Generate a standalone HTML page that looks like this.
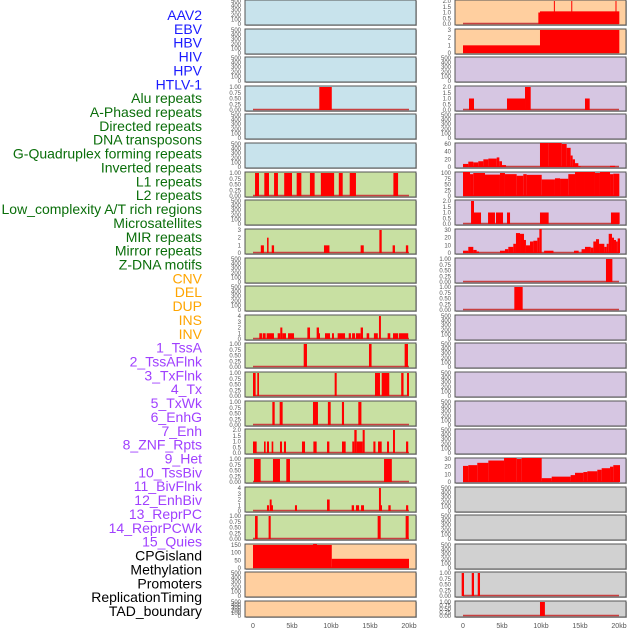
<!DOCTYPE html>
<html><head><meta charset="utf-8"><style>
html,body{margin:0;padding:0;background:#fff;width:630px;height:630px;overflow:hidden}
svg{display:block;font-family:"Liberation Sans",sans-serif}
</style></head><body>
<svg id="chart" width="630" height="630" viewBox="0 0 630 630"></svg>
<script>
// ---- labels ----
const labels = ["AAV2","EBV","HBV","HIV","HPV","HTLV-1","Alu repeats","A-Phased repeats","Directed repeats","DNA transposons","G-Quadruplex forming repeats","Inverted repeats","L1 repeats","L2 repeats","Low_complexity A/T rich regions","Microsatellites","MIR repeats","Mirror repeats","Z-DNA motifs","CNV","DEL","DUP","INS","INV","1_TssA","2_TssAFlnk","3_TxFlnk","4_Tx","5_TxWk","6_EnhG","7_Enh","8_ZNF_Rpts","9_Het","10_TssBiv","11_BivFlnk","12_EnhBiv","13_ReprPC","14_ReprPCWk","15_Quies","CPGisland","Methylation","Promoters","ReplicationTiming","TAD_boundary"];
const labelGroups = [6,13,5,15,5];
const groupColors = ["#1a1aff","#0a6e0a","#ffa500","#a040ff","#000000"];
// ---- tick label sets ----
const ticksEmpty = ["0","100","200","300","400","500"];
const ticks1 = ["0.00","0.25","0.50","0.75","1.00"];
const ticks2 = ["0.0","0.5","1.0","1.5","2.0"];
const ticks3 = ["0","1","2","3"];
const ticks4 = ["0","1","2","3","4"];
const ticks30 = ["0","10","20","30"];
const ticks60 = ["0","20","40","60"];
const ticks100 = ["0","25","50","75","100"];
const ticks150 = ["0","50","100","150"];
const xTicks = [0,5,10,15,20];
const xTickLabels = ["0","5kb","10kb","15kb","20kb"];
// ---- series: [startKb, endKb, value] ----
const sHIV = [[8.5,10.1,1]];
const sAlu = [[0.26,0.77,1],[1.45,2.05,1],[2.7,3.2,1],[4.0,5.0,1],[5.6,6.2,1],[7.3,7.9,1],[8.7,10.4,1],[11.0,11.5,1],[12.4,13.2,1],[18.0,18.6,1]];
const sDirected = [[1.0,1.4,1],[1.8,2.0,2],[2.4,2.7,1],[9.1,9.8,1],[13.8,14.2,1],[16.2,16.5,3],[17.9,18.2,1],[19.6,19.9,1]];
const sInverted = [[0.81,1.15,1],[1.24,1.62,1],[1.75,2.69,1],[3.16,3.5,1],[3.5,3.76,2],[3.76,4.23,1],[4.49,5.26,1],[6.97,7.31,2],[8.16,8.46,2],[8.46,8.59,1],[9.23,9.87,1],[10.13,10.38,1],[10.85,11.8,1],[12.27,12.56,1],[12.7,13.08,1],[13.2,13.8,1],[13.8,14.1,2],[14.57,14.9,1],[15.5,16.0,1],[16.15,16.4,4],[17.26,17.6,1],[17.95,18.6,1],[18.7,19.9,1]];
const sL1 = [[6.5,6.92,1],[14.87,15.2,1],[19.44,19.87,1]];
const sL2 = [[0.0,0.34,1],[0.55,0.77,1],[10.47,10.73,1],[15.64,16.28,1],[16.5,17.47,1],[19.0,19.3,1],[19.74,20.0,1]];
const sLowComp = [[2.48,2.78,1],[3.42,3.8,1],[7.69,8.33,1],[9.6,9.96,1],[11.4,11.67,1],[13.5,13.9,1]];
const sMicro = [[0.0,0.26,1],[0.21,0.47,1],[1.41,1.62,1],[1.79,2.05,1],[2.39,2.6,1],[3.46,3.72,1],[3.97,4.23,1],[6.28,6.67,1],[7.74,8.16,1],[9.49,9.79,1],[11.41,11.88,1],[12.73,12.99,1],[12.99,13.29,2],[13.29,14.06,1],[14.06,14.32,2],[15.43,15.7,1],[16.03,16.5,1],[17.18,17.44,1],[17.95,18.2,2],[19.62,19.9,1]];
const sMIR = [[0.13,0.98,1],[2.56,3.46,1],[4.27,4.74,1],[16.8,17.8,1]];
const sMirror = [[1.79,2.05,1],[2.14,2.39,2],[2.3,2.56,1],[5.38,5.64,1],[9.49,9.83,2],[12.65,12.95,1],[13.2,13.6,1],[13.85,14.23,1],[16.15,16.4,4],[16.28,16.54,1],[17.35,17.65,1],[19.62,19.9,1]];
const sZDNA = [[0.26,0.6,1],[2.0,2.27,1],[15.98,16.37,1],[19.57,19.96,1]];
const sCNV = [[0,10.1,150],[7.7,8.2,156],[10.1,20.0,60]];
const sINS = [[9.66,9.87,1],[9.87,20.04,1.1],[11.65,11.75,2],[13.88,13.98,2],[19.55,19.65,2]];
const sINV = [[0,9.87,1],[9.87,20.04,3]];
const sTssAFlnk = [[0.77,1.41,1],[5.64,7.95,1],[7.95,8.68,2],[15.64,16.24,1]];
const sTx = [[0,0.68,8],[0.68,1.32,14],[1.32,1.96,12],[1.96,2.61,15],[2.61,3.25,20],[3.25,4.32,22],[4.32,4.66,25],[4.66,5.0,15],[5.0,5.51,5],[9.87,10.94,68],[10.94,12.65,63],[12.65,13.29,60],[13.29,13.8,50],[13.8,14.06,30],[14.06,14.36,20],[14.36,14.79,10],[14.79,15.08,2],[18.85,19.5,3]];
const sTxWk = [[0,0.9,105],[0.9,1.32,95],[1.32,2.82,100],[2.82,4.74,93],[4.74,5.38,100],[5.38,6.88,95],[6.88,7.73,88],[7.73,8.16,95],[8.16,10.09,92],[10.09,11.79,72],[11.79,12.44,77],[12.44,13.5,75],[13.5,14.36,95],[14.36,15.64,117],[15.64,16.92,108],[16.92,17.56,100],[17.56,18.85,105],[18.85,19.27,95],[19.27,20.04,97]];
const sEnhG = [[1.03,1.41,2],[1.41,2.31,1],[3.21,4.1,1],[4.23,5.13,1],[5.64,6.03,1],[9.87,10.98,1],[18.97,20.08,1]];
const sEnh = [[0,0.68,3],[0.68,1.32,8],[1.32,1.75,4],[1.75,2.05,2],[4.74,5.38,3],[5.38,5.81,5],[5.81,6.45,8],[6.45,6.79,12],[6.79,7.31,26],[7.31,7.82,25],[7.82,8.07,17],[8.07,8.59,10],[8.59,9.02,15],[9.02,9.53,16],[9.53,9.79,20],[9.79,10.09,33],[10.4,11.6,3],[14.23,14.83,3],[15.2,15.64,5],[15.64,16.37,8],[16.37,16.71,7],[16.71,17.05,15],[17.05,17.44,18],[17.44,18.12,12],[18.12,18.42,8],[18.42,18.68,12],[18.68,19.1,25],[19.1,19.36,20],[19.36,19.62,17],[19.62,19.83,15],[19.83,20.13,19]];
const sZNF = [[18.33,19.15,1]];
const sHet = [[6.58,7.65,1]];
const sQuies = [[0,0.68,21],[0.68,1.83,22],[1.83,3.25,25],[3.25,5.26,28],[5.26,6.88,32],[6.88,7.52,30],[7.52,10.09,33],[10.09,11.37,5],[11.37,13.8,7],[13.8,14.36,9],[14.36,15.43,12],[15.43,15.94,13],[15.94,17.22,14],[17.22,17.78,16],[17.78,18.85,18],[18.85,19.27,20],[19.27,20.13,22]];
const sRepl = [[-0.17,0.13,1],[1.12,1.41,1],[1.89,2.18,1]];
const sTAD = [[9.87,10.5,1]];

const BLUE="#c8e3ec", GREEN="#c8e0a2", PEACH="#ffcf9f", LAV="#d6c6e2", GRAY="#d1d1d1";
const panels = [
 // left column
 {c:0,r:0,n:"AAV2",bg:BLUE,t:ticksEmpty,s:null},
 {c:0,r:1,n:"EBV",bg:BLUE,t:ticksEmpty,s:null},
 {c:0,r:2,n:"HBV",bg:BLUE,t:ticksEmpty,s:null},
 {c:0,r:3,n:"HIV",bg:BLUE,t:ticks1,s:sHIV},
 {c:0,r:4,n:"HPV",bg:BLUE,t:ticksEmpty,s:null},
 {c:0,r:5,n:"HTLV-1",bg:BLUE,t:ticksEmpty,s:null},
 {c:0,r:6,n:"alu",bg:GREEN,t:ticks1,s:sAlu},
 {c:0,r:7,n:"a-phased",bg:GREEN,t:ticksEmpty,s:null},
 {c:0,r:8,n:"directed",bg:GREEN,t:ticks3,s:sDirected},
 {c:0,r:9,n:"dna-transposons",bg:GREEN,t:ticksEmpty,s:null},
 {c:0,r:10,n:"g-quadruplex",bg:GREEN,t:ticksEmpty,s:null},
 {c:0,r:11,n:"inverted",bg:GREEN,t:ticks4,s:sInverted},
 {c:0,r:12,n:"l1",bg:GREEN,t:ticks1,s:sL1},
 {c:0,r:13,n:"l2",bg:GREEN,t:ticks1,s:sL2},
 {c:0,r:14,n:"low-complexity",bg:GREEN,t:ticks1,s:sLowComp},
 {c:0,r:15,n:"microsatellites",bg:GREEN,t:ticks2,s:sMicro},
 {c:0,r:16,n:"mir",bg:GREEN,t:ticks1,s:sMIR},
 {c:0,r:17,n:"mirror",bg:GREEN,t:ticks4,s:sMirror},
 {c:0,r:18,n:"z-dna",bg:GREEN,t:ticks1,s:sZDNA},
 {c:0,r:19,n:"cnv",bg:PEACH,t:ticks150,s:sCNV},
 {c:0,r:20,n:"del",bg:PEACH,t:ticksEmpty,s:null},
 {c:0,r:21,n:"dup",bg:PEACH,t:ticksEmpty,s:null},
 // right column
 {c:1,r:0,n:"ins",bg:PEACH,t:ticks2,s:sINS},
 {c:1,r:1,n:"inv",bg:PEACH,t:ticks3,s:sINV},
 {c:1,r:2,n:"tssa",bg:LAV,t:ticksEmpty,s:null},
 {c:1,r:3,n:"tssaflnk",bg:LAV,t:ticks2,s:sTssAFlnk},
 {c:1,r:4,n:"txflnk",bg:LAV,t:ticksEmpty,s:null},
 {c:1,r:5,n:"tx",bg:LAV,t:ticks60,s:sTx},
 {c:1,r:6,n:"txwk",bg:LAV,t:ticks100,s:sTxWk},
 {c:1,r:7,n:"enhg",bg:LAV,t:ticks2,s:sEnhG},
 {c:1,r:8,n:"enh",bg:LAV,t:ticks30,s:sEnh},
 {c:1,r:9,n:"znf",bg:LAV,t:ticks1,s:sZNF},
 {c:1,r:10,n:"het",bg:LAV,t:ticks1,s:sHet},
 {c:1,r:11,n:"tssbiv",bg:LAV,t:ticksEmpty,s:null},
 {c:1,r:12,n:"bivflnk",bg:LAV,t:ticksEmpty,s:null},
 {c:1,r:13,n:"enhbiv",bg:LAV,t:ticksEmpty,s:null},
 {c:1,r:14,n:"reprpc",bg:LAV,t:ticksEmpty,s:null},
 {c:1,r:15,n:"reprpcwk",bg:LAV,t:ticksEmpty,s:null},
 {c:1,r:16,n:"quies",bg:LAV,t:ticks30,s:sQuies},
 {c:1,r:17,n:"cpgisland",bg:GRAY,t:ticksEmpty,s:null},
 {c:1,r:18,n:"methylation",bg:GRAY,t:ticksEmpty,s:null},
 {c:1,r:19,n:"promoters",bg:GRAY,t:ticksEmpty,s:null},
 {c:1,r:20,n:"replication-timing",bg:GRAY,t:ticks1,s:sRepl},
 {c:1,r:21,n:"tad-boundary",bg:GRAY,t:ticks1,s:sTAD}
];

const NS="http://www.w3.org/2000/svg";
const svg=document.getElementById('chart');
function mk(tag,attrs,parent){const e=document.createElementNS(NS,tag);for(const k in attrs)e.setAttribute(k,attrs[k]);(parent||svg).appendChild(e);return e;}

// labels
let li=0;
labelGroups.forEach((cnt,g)=>{for(let k=0;k<cnt;k++){
  const t=mk('text',{x:202,y:15+li*13.86+5,'text-anchor':'end','font-size':'14',fill:groupColors[g]});
  t.textContent=labels[li];
  
  
  li++;}});

const colX=[245,455], colW=171;
function rowTop(r){return Math.round(r*28.62);}
function rowH(r){return r===21?16:25;}
function xScale(c,kb){return colX[c]+8+kb*7.8;}

panels.forEach(p=>{
  const top=rowTop(p.r), h=rowH(p.r), x0=colX[p.c];
  const g=mk('g',{});
  
  
  mk('rect',{x:x0+1,y:top+1,width:colW,height:h,fill:'#bbb'},g);
  mk('rect',{x:x0,y:top,width:colW,height:h,fill:p.bg,stroke:'#555','stroke-width':1},g);
  const nT=p.t.length, ymax=parseFloat(p.t[nT-1]);
  const yS=v=>top+h-1-v/ymax*(h-2);
  // ticks
  p.t.forEach((lab,i)=>{
    const v=parseFloat(lab);
    const tt=mk('text',{x:x0-4,y:yS(v)+2,'text-anchor':'end','font-size':'6',fill:'#555'},g);
    tt.textContent=lab;
    
    
  });
  if(p.s){
    const cp='clip'+p.c+'_'+p.r;
    const cl=mk('clipPath',{id:cp},g);
    mk('rect',{x:x0,y:top,width:colW,height:h},cl);
    const bars=mk('g',{'clip-path':'url(#'+cp+')'},g);
    const bl=mk('line',{x1:xScale(p.c,0),x2:xScale(p.c,20),y1:yS(0)-0.5,y2:yS(0)-0.5,stroke:'#c84040','stroke-width':1.5},bars);
    
    
    p.s.forEach(d=>{
      const xa=xScale(p.c,d[0]), xb=xScale(p.c,d[1]);
      const yv=yS(d[2]);
      const b=mk('rect',{x:xa,y:yv,width:Math.max(1,xb-xa),height:yS(0)-yv,fill:'#ff0000'},bars);
      
      
    });
  }
});

// x axes
[0,1].forEach(c=>{
  xTicks.forEach((v,i)=>{
    const t=mk('text',{x:xScale(c,v),y:628,'text-anchor':'middle','font-size':'7',fill:'#555'});
    t.textContent=xTickLabels[i];
    
    
  });
});
</script>
</body></html>
